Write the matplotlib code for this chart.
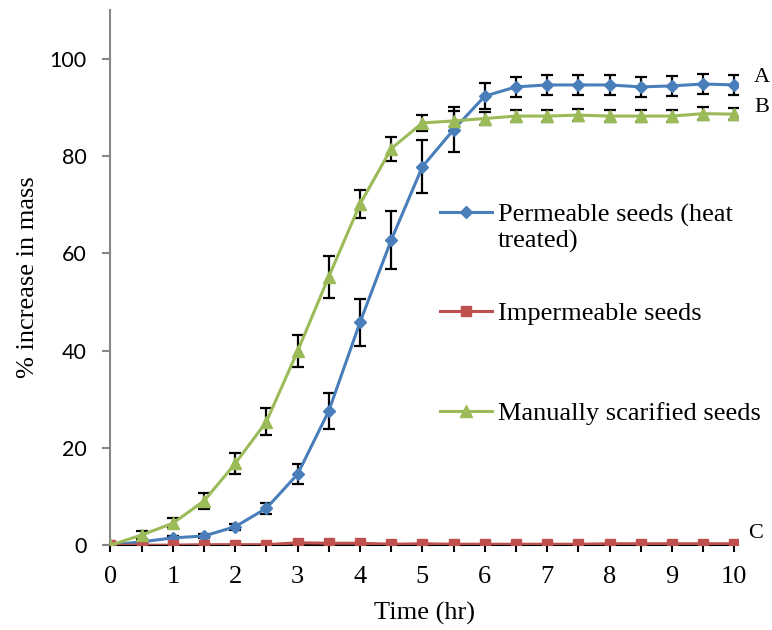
import matplotlib.pyplot as plt
import numpy as np
from matplotlib.legend_handler import HandlerLine2D

plt.rcParams['font.family'] = ['Liberation Serif', 'DejaVu Serif']

# time points (hr)
time_hr = np.arange(0, 10.5, 0.5)

# % increase in mass, means and error bars
permeable = [0, 0.7, 1.5, 1.9, 3.8, 7.6, 14.6, 27.6, 45.8, 62.7, 77.8, 85.4, 92.3,
             94.2, 94.6, 94.6, 94.6, 94.2, 94.4, 94.8, 94.6]
permeable_err = [0, 0.2, 0.3, 0.4, 0.6, 1.1, 2.1, 3.7, 4.9, 6.0, 5.5, 4.6, 2.6,
                 2.0, 2.0, 2.0, 2.0, 2.0, 2.0, 2.0, 2.0]

impermeable = [0, 0, 0, 0.1, 0.1, 0.1, 0.5, 0.4, 0.4, 0.2, 0.3, 0.2, 0.2,
               0.2, 0.2, 0.2, 0.3, 0.3, 0.3, 0.3, 0.3]

scarified = [0, 2.1, 4.5, 9.1, 16.8, 25.4, 39.9, 55.2, 70.1, 81.5, 86.8, 87.2, 87.7,
             88.2, 88.2, 88.4, 88.2, 88.2, 88.2, 88.7, 88.6]
scarified_err = [0, 0.8, 1.0, 1.7, 2.1, 2.7, 3.3, 4.3, 2.9, 2.5, 1.7, 2.0, 1.3,
                 1.3, 1.3, 1.3, 1.3, 1.3, 1.3, 1.3, 1.3]

labels = ['Permeable seeds (heat\ntreated)', 'Impermeable seeds', 'Manually scarified seeds']
end_letters = ['A', 'B', 'C']
letter_pos = [(10.44, 96.2), (10.44, 89.9), (10.34, 2.4)]

blue = '#4A7EBB'
red = '#C0504D'
green = '#9BBB59'
FS = 19


# legend handle aligned with the first line of a two-line label
class HandlerFirstLine(HandlerLine2D):
    def __init__(self, shift, **kw):
        super().__init__(**kw)
        self.shift = shift

    def create_artists(self, legend, orig_handle, xdescent, ydescent, width,
                       height, fontsize, trans):
        arts = super().create_artists(legend, orig_handle, xdescent, ydescent,
                                      width, height, fontsize, trans)
        for a in arts:
            a.set_ydata(np.asarray(a.get_ydata()) + self.shift)
        return arts


fig = plt.figure(figsize=(7.72, 6.3), dpi=100)
ax = fig.add_axes([0.1431, 0.1346, 0.8129, 0.8495])

# error bars
ax.errorbar(time_hr, permeable, yerr=permeable_err, fmt='none', ecolor='black',
            elinewidth=1.6, capsize=4, capthick=1.6, zorder=2)
ax.errorbar(time_hr, scarified, yerr=scarified_err, fmt='none', ecolor='black',
            elinewidth=1.6, capsize=4, capthick=1.6, zorder=2)

# series
l1, = ax.plot(time_hr, permeable, color=blue, lw=2.2, marker='D', ms=6, zorder=3,
              label=labels[0])
l2, = ax.plot(time_hr, impermeable, color=red, lw=2.2, marker='s', ms=6.5, zorder=3,
              label=labels[1])
l3, = ax.plot(time_hr, scarified, color=green, lw=2.2, marker='^', ms=8, zorder=4,
              label=labels[2])

ax.set_xlim(0, 10.06)
ax.set_ylim(0, 110)
ax.set_xticks(np.arange(0, 11, 1))
ax.set_xticks(np.arange(0, 10.5, 0.5), minor=True)
ax.set_yticks(np.arange(0, 101, 20))

for s in ['top', 'right']:
    ax.spines[s].set_visible(False)
ax.spines['left'].set_color('#868686')
ax.spines['left'].set_linewidth(1.5)
ax.spines['bottom'].set_color('black')
ax.spines['bottom'].set_linewidth(1.5)
ax.spines['bottom'].set_zorder(1)

ax.tick_params(axis='y', colors='#868686', length=6, width=1.5, labelcolor='black',
               pad=11)
ax.tick_params(axis='x', which='both', colors='black', length=5, width=1.5,
               labelsize=FS, pad=10)
for t in ax.get_yticklabels():
    t.set_family(['Lato', 'DejaVu Sans'])
    t.set_fontsize(15.5)

ax.set_xlabel('Time (hr)', fontsize=FS, labelpad=10)
ax.set_ylabel('% increase in mass', fontsize=FS, labelpad=8)

# legend: first entry separately because of its two-line label
leg1 = ax.legend(handles=[l1], loc='center left', bbox_to_anchor=(0.5256, 0.592),
                 frameon=False, fontsize=FS, handlelength=1.97, handletextpad=0.2,
                 borderaxespad=0, borderpad=0,
                 handler_map={l1: HandlerFirstLine(0.6 * FS)})
ax.add_artist(leg1)
ax.legend(handles=[l2, l3], loc='center left', bbox_to_anchor=(0.5256, 0.340),
          frameon=False, fontsize=FS, handlelength=1.97, handletextpad=0.2,
          labelspacing=2.9, borderaxespad=0, borderpad=0)

# group letters at the end of each curve
for letter, (xv, yv) in zip(end_letters, letter_pos):
    ax.text(xv, yv, letter, fontsize=16, ha='center', va='center', clip_on=False)

fig.savefig('out.png', dpi=100)
